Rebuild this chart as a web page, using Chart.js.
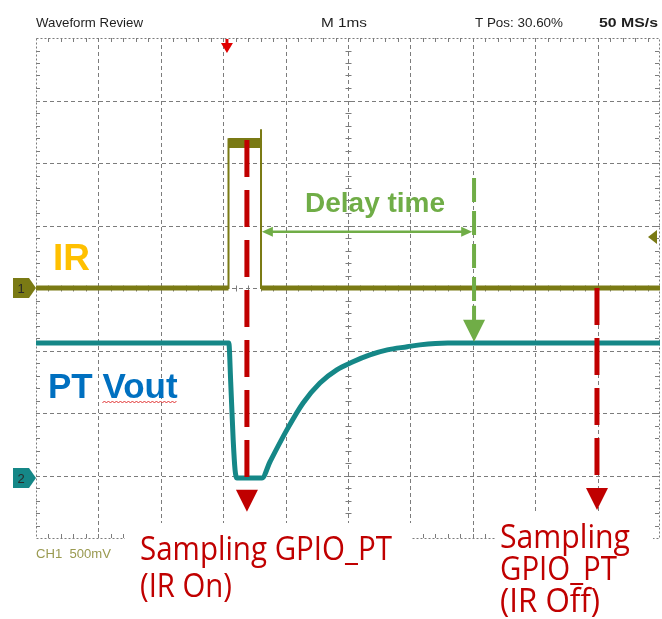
<!DOCTYPE html>
<html>
<head>
<meta charset="utf-8">
<script src="https://cdn.jsdelivr.net/npm/chart.js@4.4.0/dist/chart.umd.min.js"></script>
<style>
  html, body { margin: 0; padding: 0; background: #fff; }
  #wrap { width: 662px; height: 619px; }
</style>
</head>
<body>
<div id="wrap"><canvas id="scopeChart" width="662" height="619"></canvas></div>
<script>
// x = time in divisions (M 1ms/div), y = level in divisions from bottom of screen
const irTime = [0, 3.085, 3.085, 3.606, 3.606, 3.606, 10];
const irLevel = [4.0, 4.0, 6.38, 6.38, 6.54, 4.0, 4.0];
const irPulseTop = 6.32;

const ptTime = [0, 3.09, 3.12, 3.16, 3.19, 3.22, 3.62, 3.75, 4.02, 4.28, 4.55, 4.82, 5.08, 5.35, 5.63, 5.95, 6.15, 6.6, 10];
const ptLevel = [3.12, 3.12, 2.5, 1.57, 1.09, 0.96, 0.96, 1.22, 1.73, 2.16, 2.48, 2.69, 2.82, 2.93, 3.01, 3.06, 3.09, 3.12, 3.12];

// annotation marks (same units)
const samplingTimes = [3.38, 8.99];
const samplingFrom = [6.37, 4.0];
const samplingTo = [0.42, 0.45];
const delayFrom = 3.62, delayTo = 6.99, delayLevel = 4.9;
const delayMarkTime = 7.02, delayMarkFrom = 5.76, delayMarkTo = 3.14;

const headerTexts = ['Waveform Review', 'M 1ms', 'T Pos: 30.60%', '50 MS/s'];

const IR_COLOR = '#7a7a14';
const PT_COLOR = '#158787';
const RED = '#c00000';
const GREEN = '#70ad47';

function squeezeText(ctx, str, x, y, width) {
    const w = ctx.measureText(str).width;
    ctx.save();
    ctx.translate(x, y);
    ctx.scale(width / w, 1);
    ctx.fillText(str, 0, 0);
    ctx.restore();
}

function line(ctx, x1, y1, x2, y2) {
    ctx.beginPath();
    ctx.moveTo(x1, y1);
    ctx.lineTo(x2, y2);
    ctx.stroke();
}

function drawGrid(chart) {
    const { ctx, chartArea: a, scales: { x, y } } = chart;
    ctx.save();
    ctx.strokeStyle = '#7c7c7c';
    ctx.lineWidth = 1;
    ctx.setLineDash([4, 3]);
    for (let i = 1; i < 10; i++) {
        const px = Math.round(x.getPixelForValue(i)) + 0.5;
        line(ctx, px, a.top, px, a.bottom);
    }
    for (let j = 1; j < 8; j++) {
        const py = Math.round(y.getPixelForValue(j)) + 0.5;
        line(ctx, a.left, py, a.right, py);
    }
    // dotted border
    ctx.setLineDash([2, 2]);
    ctx.strokeRect(Math.round(a.left) + 0.5, Math.round(a.top) + 0.5, Math.round(a.right - a.left) - 1, Math.round(a.bottom - a.top));
    // minor ticks on border and centre lines
    ctx.setLineDash([]);
    const cx = Math.round(x.getPixelForValue(5)) + 0.5;
    const cy = Math.round(y.getPixelForValue(4)) + 0.5;
    for (let t = 1; t < 50; t++) {
        const px = Math.round(x.getPixelForValue(t / 5)) + 0.5;
        line(ctx, px, a.top, px, a.top + 4);
        line(ctx, px, a.bottom, px, a.bottom - 4);
        line(ctx, px, cy - 3, px, cy + 3);
    }
    for (let t = 1; t < 40; t++) {
        const py = Math.round(y.getPixelForValue(t / 5)) + 0.5;
        line(ctx, a.left, py, a.left + 4, py);
        line(ctx, a.right - 1, py, a.right - 5, py);
        line(ctx, cx - 3, py, cx + 3, py);
    }
    ctx.restore();
}

function arrowDown(ctx, px, tipY, len, half) {
    ctx.beginPath();
    ctx.moveTo(px - half, tipY - len);
    ctx.lineTo(px + half, tipY - len);
    ctx.lineTo(px, tipY);
    ctx.closePath();
    ctx.fill();
}

function drawMarkers(chart) {
    const { ctx, scales: { x, y } } = chart;
    ctx.save();
    // channel markers on the left
    const chans = [
        { label: '1', level: irLevel[0], color: IR_COLOR },
        { label: '2', level: ptLevel[5], color: PT_COLOR }
    ];
    chans.forEach(c => {
        const py = y.getPixelForValue(c.level);
        ctx.fillStyle = c.color;
        ctx.beginPath();
        ctx.moveTo(13, py - 10);
        ctx.lineTo(29, py - 10);
        ctx.lineTo(36, py);
        ctx.lineTo(29, py + 10);
        ctx.lineTo(13, py + 10);
        ctx.closePath();
        ctx.fill();
        ctx.fillStyle = '#2a2a2a';
        ctx.font = '13px "Liberation Sans", Arial, sans-serif';
        ctx.textAlign = 'center';
        ctx.textBaseline = 'middle';
        ctx.fillText(c.label, 21, py + 1);
    });
    // trigger level arrow (right)
    ctx.fillStyle = IR_COLOR;
    ctx.beginPath();
    ctx.moveTo(648, 237);
    ctx.lineTo(657, 230);
    ctx.lineTo(657, 244);
    ctx.closePath();
    ctx.fill();
    // trigger position (top)
    const tx = x.getPixelForValue(3.06);
    ctx.fillStyle = '#e00000';
    ctx.beginPath();
    ctx.moveTo(tx - 6, 43);
    ctx.lineTo(tx + 6, 43);
    ctx.lineTo(tx, 53);
    ctx.closePath();
    ctx.fill();
    ctx.fillRect(tx - 1.5, 39, 3, 5);
    ctx.restore();
}

function drawAnnotations(chart) {
    const { ctx, scales: { x, y } } = chart;
    ctx.save();
    ctx.lineCap = 'butt';

    // red sampling arrows
    ctx.strokeStyle = RED;
    ctx.fillStyle = RED;
    ctx.lineWidth = 5;
    samplingTimes.forEach((t, i) => {
        const px = x.getPixelForValue(t);
        const y1 = y.getPixelForValue(samplingFrom[i]);
        const tip = y.getPixelForValue(samplingTo[i]);
        ctx.setLineDash([37, 13]);
        line(ctx, px, y1, px, tip - 30);
        ctx.setLineDash([]);
        arrowDown(ctx, px, tip, 22, 11);
    });

    // green delay marker
    ctx.strokeStyle = GREEN;
    ctx.fillStyle = GREEN;
    ctx.lineWidth = 4;
    const gx = x.getPixelForValue(delayMarkTime);
    const gTip = y.getPixelForValue(delayMarkTo);
    ctx.setLineDash([24, 9]);
    line(ctx, gx, y.getPixelForValue(delayMarkFrom), gx, gTip - 40);
    ctx.setLineDash([]);
    line(ctx, gx, gTip - 36, gx, gTip - 20);
    arrowDown(ctx, gx, gTip, 22, 11);

    // double-headed horizontal arrow
    const hy = y.getPixelForValue(delayLevel);
    const hx1 = x.getPixelForValue(delayFrom);
    const hx2 = x.getPixelForValue(delayTo);
    ctx.lineWidth = 2.5;
    line(ctx, hx1 + 8, hy, hx2 - 8, hy);
    ctx.beginPath();
    ctx.moveTo(hx1, hy);
    ctx.lineTo(hx1 + 11, hy - 5);
    ctx.lineTo(hx1 + 11, hy + 5);
    ctx.closePath();
    ctx.fill();
    ctx.beginPath();
    ctx.moveTo(hx2, hy);
    ctx.lineTo(hx2 - 11, hy - 5);
    ctx.lineTo(hx2 - 11, hy + 5);
    ctx.closePath();
    ctx.fill();

    ctx.font = 'bold 28px "Liberation Sans", Arial, sans-serif';
    ctx.textBaseline = 'alphabetic';
    ctx.fillText('Delay time', 305, 212);

    // trace labels
    ctx.fillStyle = '#ffc000';
    ctx.font = 'bold 37px "Liberation Sans", Arial, sans-serif';
    ctx.fillText('IR', 53, 270);

    ctx.fillStyle = '#0070c0';
    ctx.font = 'bold 35px "Liberation Sans", Arial, sans-serif';
    ctx.fillText('PT Vout', 48, 398);
    const vx = 48 + ctx.measureText('PT ').width;
    const vw = ctx.measureText('Vout').width;
    // spell-check squiggle under "Vout"
    ctx.strokeStyle = '#e03030';
    ctx.lineWidth = 1;
    ctx.beginPath();
    for (let k = 0; k <= vw; k += 2) {
        const yy = 402 + ((k / 2) % 2 ? -1 : 1);
        if (k === 0) ctx.moveTo(vx + k, yy); else ctx.lineTo(vx + k, yy);
    }
    ctx.stroke();

    // white boxes behind sampling captions
    ctx.fillStyle = '#ffffff';
    ctx.fillRect(125, 523, 286, 96);
    ctx.fillRect(495, 514, 158, 105);

    ctx.fillStyle = RED;
    ctx.font = '33px "Open Sans", "Noto Sans", sans-serif';
    squeezeText(ctx, 'Sampling GPIO_PT', 140, 560, 252);
    squeezeText(ctx, '(IR On)', 140, 597, 92);
    squeezeText(ctx, 'Sampling', 500, 548, 130);
    squeezeText(ctx, 'GPIO_PT', 500, 580, 117);
    squeezeText(ctx, '(IR Off)', 500, 612, 100);

    // status line below the graticule
    ctx.fillStyle = '#9a9a50';
    ctx.font = '13px "Liberation Sans", Arial, sans-serif';
    squeezeText(ctx, 'CH1  500mV', 36, 558, 75);
    ctx.restore();
}

function drawHeader(chart) {
    const ctx = chart.ctx;
    ctx.save();
    ctx.fillStyle = '#1e1e1e';
    ctx.textBaseline = 'alphabetic';
    ctx.font = '13px "Liberation Sans", Arial, sans-serif';
    squeezeText(ctx, headerTexts[0], 36, 27, 107);
    squeezeText(ctx, headerTexts[1], 321, 27, 46);
    squeezeText(ctx, headerTexts[2], 475, 27, 88);
    ctx.font = 'bold 13px "Liberation Sans", Arial, sans-serif';
    squeezeText(ctx, headerTexts[3], 599, 27, 59);
    ctx.restore();
}

const scopePlugin = {
    id: 'scope',
    beforeDatasetsDraw(chart) {
        drawHeader(chart);
        drawGrid(chart);
        drawMarkers(chart);
    },
    afterDatasetsDraw(chart) {
        drawAnnotations(chart);
    }
};

const irPath = irTime.map((t, i) => ({ x: t, y: irLevel[i] }));
const irBase = [
    { x: irTime[0], y: irLevel[0] }, { x: irTime[1], y: irLevel[1] },
    { x: (irTime[1] + irTime[3]) / 2, y: null },
    { x: irTime[5], y: irLevel[5] }, { x: irTime[6], y: irLevel[6] }
];
const irTop = [{ x: irTime[2], y: irPulseTop }, { x: irTime[3], y: irPulseTop }];
const ptPath = ptTime.map((t, i) => ({ x: t, y: ptLevel[i] }));

new Chart(document.getElementById('scopeChart'), {
    type: 'line',
    data: {
        datasets: [
            { label: 'IR', data: irPath, borderColor: IR_COLOR, borderWidth: 2 },
            { label: 'IR base', data: irBase, borderColor: IR_COLOR, borderWidth: 5, spanGaps: false },
            { label: 'IR top', data: irTop, borderColor: IR_COLOR, borderWidth: 10 },
            {
                label: 'PT Vout', data: ptPath, borderColor: PT_COLOR, borderWidth: 5,
                borderJoinStyle: 'round', cubicInterpolationMode: 'monotone'
            }
        ]
    },
    options: {
        responsive: false,
        animation: false,
        devicePixelRatio: 1,
        layout: { padding: { left: 36, top: 38, right: 2, bottom: 81 } },
        scales: {
            x: { type: 'linear', min: 0, max: 10, display: false },
            y: { type: 'linear', min: 0, max: 8, display: false }
        },
        elements: { point: { radius: 0 }, line: { tension: 0 } },
        plugins: { legend: { display: false }, tooltip: { enabled: false } }
    },
    plugins: [scopePlugin]
});
</script>
</body>
</html>
